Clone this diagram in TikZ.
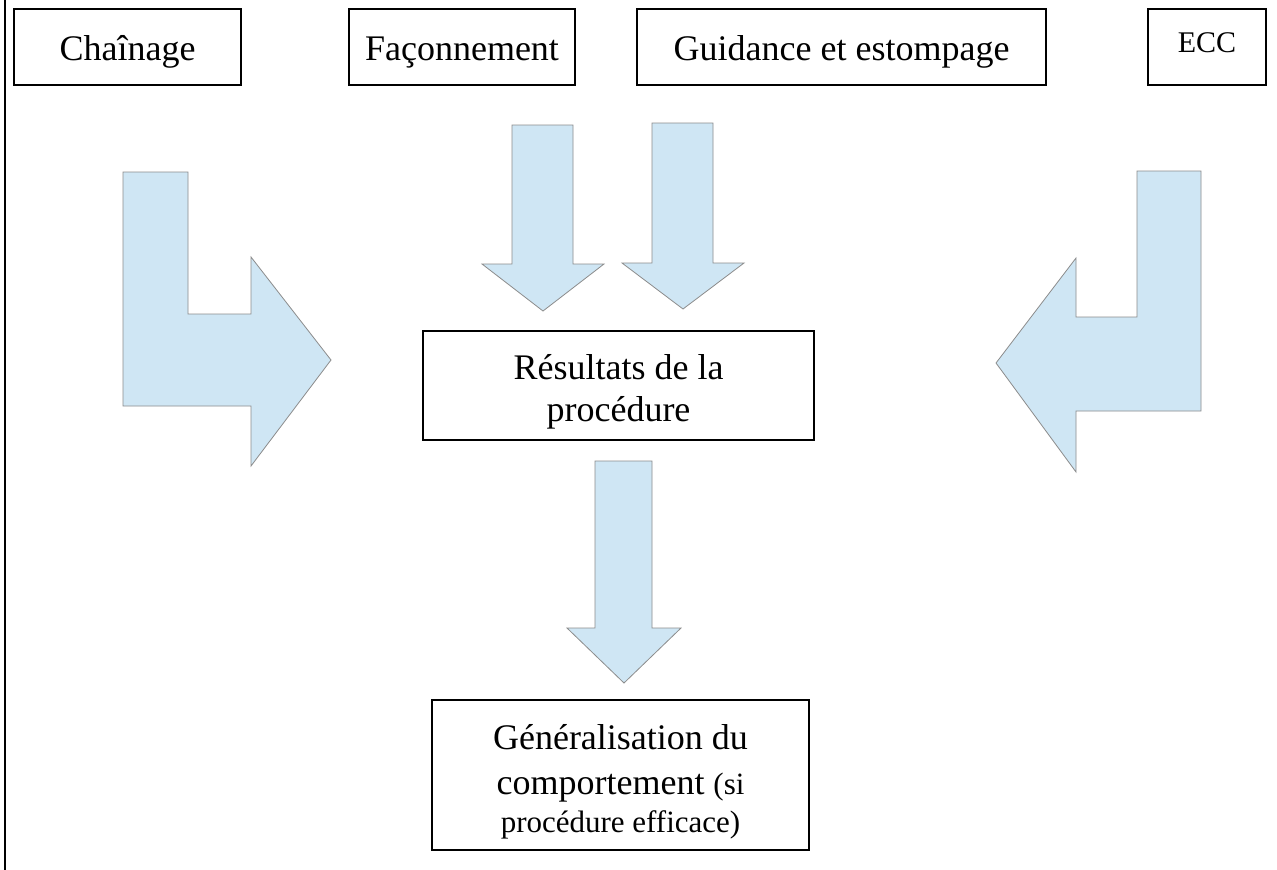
\documentclass[tikz,border=0pt]{standalone}
\usepackage{fontspec}
\setmainfont{Liberation Serif}
\definecolor{arrowfill}{HTML}{CFE6F4}
\definecolor{arrowline}{HTML}{8C8C8C}
\newcommand{\bigtxt}{\fontsize{36}{45}\selectfont}
\newcommand{\smalltxt}{\fontsize{30}{36}\selectfont}
\newcommand{\smallertxt}{\fontsize{31}{36}\selectfont}
\begin{document}
\begin{tikzpicture}[x=1pt,y=-1pt,
  box/.style={draw=black,line width=1.1pt,inner sep=0pt,align=center,font=\bigtxt},
  blockarrow/.style={fill=arrowfill,draw=arrowline,line width=0.8pt,line join=miter}]
\useasboundingbox (0,0) rectangle (1277,870);
\fill[white] (0,0) rectangle (1277,870);
\draw[line width=1.2pt] (5,0) -- (5,870);

\node[box,minimum width=227pt,minimum height=76pt] (chain) at (127.5,47) {\rule[-9pt]{0pt}{45pt}Chaînage};
\node[box,minimum width=226pt,minimum height=76pt] (faco) at (462,47) {\rule[-9pt]{0pt}{45pt}Façonnement};
\node[box,minimum width=409pt,minimum height=76pt] (guid) at (841.5,47) {\rule[-9pt]{0pt}{45pt}Guidance et estompage};
\node[box,minimum width=118pt,minimum height=76pt,font=\smalltxt] (ecc) at (1207,47) {\rule[-12pt]{0pt}{34pt}ECC};
\node[box,minimum width=391pt,minimum height=109pt] (res) at (618.5,385.5) {\rule{0pt}{37pt}Résultats de la\\[-3pt]procédure};
\node[box,minimum width=377pt,minimum height=150pt] (gen) at (620.5,775) {\rule{0pt}{39pt}Généralisation du\\comportement {\smallertxt(si}\\[-7pt]{\smallertxt procédure efficace)}};

% block arrows
\draw[blockarrow] (123,172) -- (188,172) -- (188,314) -- (251,314) -- (251,257) -- (331,360) -- (251,466) -- (251,406) -- (123,406) -- cycle;
\draw[blockarrow] (1137,171) -- (1201,171) -- (1201,411) -- (1076,411) -- (1076,472) -- (996,363) -- (1076,258) -- (1076,317) -- (1137,317) -- cycle;
\draw[blockarrow] (512,125) -- (573,125) -- (573,264) -- (604,264) -- (543,311) -- (482,264) -- (512,264) -- cycle;
\draw[blockarrow] (652,123) -- (713,123) -- (713,263) -- (744,263) -- (683,309) -- (622,263) -- (652,263) -- cycle;
\draw[blockarrow] (595,461) -- (652,461) -- (652,628) -- (681,628) -- (624,683) -- (567,628) -- (595,628) -- cycle;
\end{tikzpicture}
\end{document}
